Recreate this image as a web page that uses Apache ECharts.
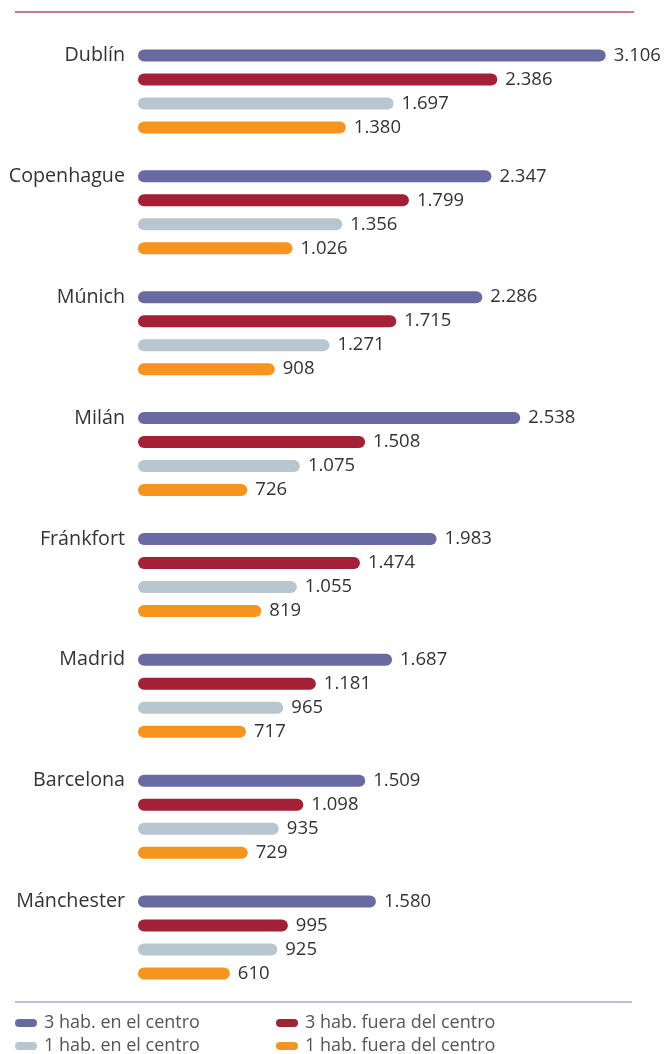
<!DOCTYPE html>
<html>
<head>
<meta charset="utf-8">
<script src="https://cdn.jsdelivr.net/npm/echarts@6/dist/echarts.min.js"></script>
<style>
html,body{margin:0;padding:0;background:#fff;}
#chart{width:667px;height:1054px;}
</style>
</head>
<body>
<div id="chart"></div>
<script>
const categories = ['Dublín','Copenhague','Múnich','Milán','Fránkfort','Madrid','Barcelona','Mánchester'];
const seriesNames = ['3 hab. en el centro','3 hab. fuera del centro','1 hab. en el centro','1 hab. fuera del centro'];
const threeCentre = [3106, 2347, 2286, 2538, 1983, 1687, 1509, 1580];
const threeOutside = [2386, 1799, 1715, 1508, 1474, 1181, 1098, 995];
const oneCentre = [1697, 1356, 1271, 1075, 1055, 965, 935, 925];
const oneOutside = [1380, 1026, 908, 726, 819, 717, 729, 610];
const colors = ['#6a6aa2', '#a32036', '#b8c6cf', '#f7941e'];

const values = [threeCentre, threeOutside, oneCentre, oneOutside];
const fmt = v => String(v).replace(/\B(?=(\d{3})+(?!\d))/g, '.');
const FONT = '"Open Sans", sans-serif';
const PILL = 'path://M4,0 L18,0 A4,4 0 0 1 18,8 L4,8 A4,4 0 0 1 4,0 Z';

const chart = echarts.init(document.getElementById('chart'), null, {renderer: 'canvas'});
const legendPos = [
  {left: 15, top: 1014},
  {left: 276, top: 1014},
  {left: 15, top: 1037},
  {left: 276, top: 1037}
];
chart.setOption({
  animation: false,
  backgroundColor: '#fff',
  grid: {left: 138, top: 31, width: 512, height: 967, containLabel: false},
  xAxis: {type: 'value', min: 0, max: 3400, show: false},
  yAxis: {
    type: 'category', data: categories, inverse: true,
    axisLine: {show: false}, axisTick: {show: false}, splitLine: {show: false},
    axisLabel: {
      margin: 13, verticalAlign: 'middle',
      formatter: v => '{n|' + v + '}\n{s| }',
      rich: {
        n: {color: '#333', fontSize: 19.7, fontFamily: FONT, lineHeight: 22},
        s: {fontSize: 10, lineHeight: 72}
      }
    }
  },
  legend: legendPos.map((p, i) => ({
    data: [seriesNames[i]], left: p.left, top: p.top, padding: 0,
    icon: PILL, itemWidth: 22, itemHeight: 8,
    textStyle: {color: '#555', fontSize: 18, fontFamily: FONT, padding: [0, 0, 0, 2]},
    selectedMode: false
  })),
  graphic: [
    {type: 'line', shape: {x1: 15, y1: 12, x2: 634, y2: 12}, style: {stroke: '#b4505f', lineWidth: 1.5}},
    {type: 'line', shape: {x1: 15, y1: 1002, x2: 632, y2: 1002}, style: {stroke: '#a9a9cf', lineWidth: 1.5}}
  ],
  series: seriesNames.map((name, i) => ({
    name, type: 'bar', data: values[i],
    barWidth: 12, barGap: '100%',
    itemStyle: {color: colors[i], borderRadius: 6},
    label: {
      show: true, position: 'right', distance: 8,
      color: '#333', fontSize: 18.5, fontFamily: FONT,
      formatter: p => fmt(p.value)
    }
  }))
});
</script>
</body>
</html>
